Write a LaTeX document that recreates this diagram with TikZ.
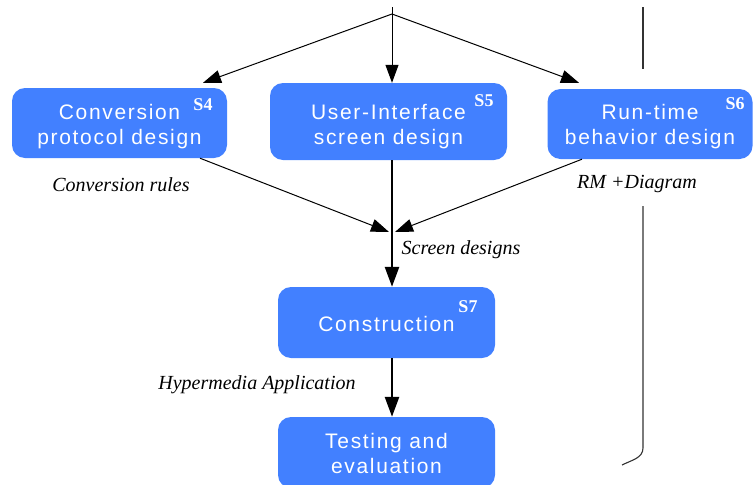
\documentclass[tikz,border=0pt]{standalone}
\usepackage{fontspec}
\setmainfont{Liberation Serif}
\newfontfamily\stagefont[LetterSpace=8]{Liberation Sans}
\usetikzlibrary{arrows.meta}
\definecolor{stageblue}{RGB}{66,128,255}
\definecolor{railgrey}{RGB}{50,50,50}
% strut that lowers the text block inside a stage box
\newcommand{\droptext}[1]{\rule{0pt}{#1}}

\begin{document}
\begin{tikzpicture}[x=1pt,y=-1pt,
  stage/.style={fill=stageblue, rounded corners=13pt, text=white, align=center,
    inner sep=0pt, font=\stagefont\fontsize{21}{25}\selectfont},
  tag/.style={text=white, inner sep=0pt, font=\bfseries\fontsize{18}{18}\selectfont},
  flowlabel/.style={inner sep=0pt, font=\itshape\fontsize{20}{20}\selectfont},
  thinflow/.style={line width=1pt, -{Triangle[length=18pt,width=13pt]}},
  thickflow/.style={line width=2.6pt, -{Triangle[length=20pt,width=14pt]}},
  rail/.style={line width=1.1pt, draw=railgrey}]

\useasboundingbox (0,0) rectangle (753,485);
\clip (0,0) rectangle (753,485);

% design stages
\node[stage, minimum width=215pt, minimum height=70pt] (s4) at (119.5,123) {\droptext{22pt}Conversion\\protocol design};
\node[stage, minimum width=237pt, minimum height=77pt] (s5) at (388.5,121.5) {\droptext{26pt}User-Interface\\screen design};
\node[stage, minimum width=205pt, minimum height=70pt] (s6) at (650,124) {\droptext{20pt}Run-time\\behavior design};
\node[stage, minimum width=217pt, minimum height=71pt] (s7) at (386.5,322.5) {\droptext{19pt}Construction};
\node[stage, minimum width=217pt, minimum height=71pt] (test) at (386.5,452.5) {\droptext{17pt}Testing and\\evaluation};

% step tags
\node[tag] (t4) at (203,105) {S4};
\node[tag] (t5) at (484,101) {S5};
\node[tag] (t6) at (735,104) {S6};
\node[tag] (t7) at (468,307) {S7};

% products passed between stages
\node[flowlabel] (lconv) at (121,185) {Conversion rules};
\node[flowlabel] (lrm) at (637,184) {RM +Diagram};
\node[flowlabel] (lscreen) at (461,250) {Screen designs};
\node[flowlabel] (lhyper) at (257,385) {Hypermedia Application};

% incoming flow splits into the three design stages
\coordinate (entry) at (392,7);
\coordinate (fork) at (392,14);
\draw[line width=1pt] (entry) -- (fork);
\draw[thinflow] (fork) -- ([xshift=83.5pt,yshift=5pt]s4.north);
\draw[thinflow] (fork) -- (fork |- s5.north);
\draw[thinflow] (fork) -- ([xshift=-71pt,yshift=6pt]s6.north);

% design results converge on the screen designs
\coordinate (meet) at (392,232);
\draw[thinflow] ([xshift=80.5pt]s4.south) -- ([xshift=-3pt]meet);
\draw[thinflow] ([xshift=-68pt]s6.south) -- ([xshift=3pt]meet);
\draw[thickflow] (s5.south -| fork) -- (s7.north -| fork);
\draw[thickflow] (s7.south -| fork) -- (test.north -| fork);

% feedback rail on the right
\coordinate (r1) at (643,7);
\coordinate (r2) at (643,69);
\coordinate (r3) at (643,206);
\coordinate (r4) at (643,448);
\coordinate (r5) at (622,465);
\draw[rail] (r1) -- (r2);
\draw[rail] (r3) -- (r4) .. controls (643,458) and (632,460) .. (r5);

\end{tikzpicture}
\end{document}
